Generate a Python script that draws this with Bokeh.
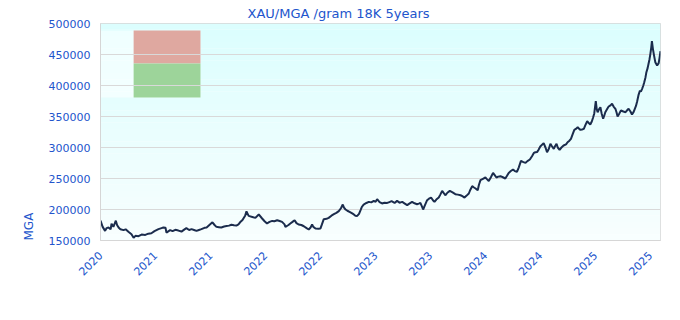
from math import pi
from bokeh.plotting import figure
from bokeh.models import Range1d, FixedTicker, BoxAnnotation, Title, BasicTickFormatter
from bokeh.embed import file_html
from bokeh.resources import INLINE

TITLE = "XAU/MGA /gram 18K 5years"
Y_LABEL = "MGA"

# days since 2020-11-13
day = [0, 7, 15, 20, 26, 33, 36, 42, 50, 54, 59, 65, 75, 82, 91, 101, 108, 114, 124, 134,
       146, 156, 166, 176, 189, 199, 205, 212, 215, 227, 235, 244, 254, 264, 274, 280, 289, 297, 305, 313,
       321, 329, 339, 346, 355, 365, 372, 378, 386, 394, 403, 411, 419, 427, 435, 443, 450, 455, 463, 472,
       476, 483, 495, 505, 516, 527, 535, 543, 551, 560, 567, 576, 584, 592, 600, 603, 613, 619, 626, 633,
       639, 646, 655, 663, 672, 679, 685, 690, 694, 701, 711, 717, 722, 728, 737, 744, 753, 761, 769, 777,
       784, 790, 794, 799, 805, 812, 818, 826, 831, 837, 843, 848, 852, 858, 867, 875, 883, 891, 897, 902,
       910, 918, 926, 935, 942, 949, 959, 967, 975, 984, 991, 1000, 1007, 1016, 1024, 1032, 1038, 1043, 1048, 1052,
       1058, 1065, 1071, 1078, 1084, 1089, 1095, 1103, 1108, 1114, 1120, 1125, 1131, 1139, 1148, 1157, 1165, 1174, 1180, 1187,
       1193, 1201, 1206, 1212, 1218, 1223, 1230, 1234, 1239, 1247, 1255, 1260, 1266, 1273, 1280, 1286, 1291, 1297, 1304, 1312,
       1320, 1325, 1331, 1338, 1345, 1351, 1358, 1364, 1371, 1379, 1386, 1392, 1400, 1407, 1413, 1418, 1424, 1428, 1434, 1445,
       1451, 1456, 1462, 1467, 1472, 1478, 1482, 1487, 1491, 1497, 1503, 1510, 1518, 1523, 1529, 1534, 1540, 1545, 1550, 1556,
       1561, 1565, 1570, 1576, 1581, 1587, 1593, 1597, 1602, 1606, 1610, 1615, 1618, 1621, 1626, 1630, 1634, 1639, 1643, 1646,
       1652, 1657, 1663, 1668, 1673, 1679, 1683, 1686, 1692, 1697, 1705, 1712, 1717, 1722, 1728, 1733, 1738, 1741, 1746, 1750,
       1754, 1759, 1762, 1766, 1770, 1773, 1777, 1780, 1784, 1787, 1790, 1793, 1796, 1798, 1801, 1804, 1807, 1809, 1815, 1820,
       1823, 1826]

price = [182000, 172000, 165500, 170000, 171000, 168000, 177000, 172000, 182000, 175000,
         171000, 168000, 166700, 168000, 164000, 160000, 154400, 157500, 157000, 159500,
         159000, 161000, 161700, 165000, 168300, 170000, 171000, 170500, 162700, 166700,
         165000, 167200, 166000, 164400, 168000, 170000, 167000, 168300, 167000, 165500,
         167000, 168300, 170500, 171000, 175000, 179300, 175000, 172000, 171500, 171000,
         172500, 173300, 174000, 175500, 174500, 174000, 176000, 179300, 183000, 190500,
         197000, 189700, 188000, 186500, 192000, 185500, 181000, 177400, 180000, 181600,
         181000, 182700, 181500, 180000, 176000, 172000, 175000, 177400, 180000, 182700,
         178000, 175800, 175000, 173000, 170000, 167700, 171000, 175800, 172000, 169300,
         169000, 169300, 176000, 184400, 185000, 186500, 190000, 192400, 194500, 197300,
         202000, 208000, 203000, 200000, 198000, 196200, 194500, 192000, 190000, 189700,
         193000, 199000, 204000, 208000, 210500, 212300, 211500, 213900, 212500, 216600,
         212000, 209700, 211000, 210600, 212000, 213400, 210600, 213900, 211000, 212300,
         210000, 207000, 209500, 212300, 210000, 208500, 209500, 210600, 205000, 200000,
         207000, 215000, 217500, 219300, 215000, 212300, 216000, 219300, 224000, 230000,
         226000, 223000, 227000, 230000, 227500, 224700, 224000, 223000, 221500, 219300,
         222000, 225800, 232000, 237600, 235500, 233900, 231100, 240000, 247300, 249500,
         251600, 249000, 246100, 252000, 259000, 255000, 251600, 253000, 253700, 252000,
         250000, 254000, 259000, 262000, 264500, 262000, 260600, 268000, 278400, 276500,
         275200, 278000, 280600, 286000, 291300, 292400, 292900, 296000, 301600, 307000,
         300000, 292400, 298000, 306000, 302000, 297900, 302000, 306000, 300000, 296300,
         300000, 303200, 305000, 308500, 311000, 314000, 322000, 328500, 330000, 332700,
         330000, 328500, 329000, 330100, 336000, 342400, 339000, 337100, 342000, 347900,
         355000, 374700, 362000, 356900, 362000, 365000, 355000, 346300, 352000, 356900,
         362000, 366100, 368000, 370500, 366000, 362400, 356000, 350000, 355000, 359700,
         358000, 356900, 360000, 362400, 358000, 353200, 357000, 360800, 367000, 374700,
         384000, 391900, 390000, 394700, 400000, 405300, 413000, 421500, 428000, 435000,
         442000, 451100, 462000, 471500, 460000, 451100, 443000, 437600, 432300, 436000,
         445000, 455300]

TICK_DAYS = [0, 179, 359, 538, 717, 897, 1076, 1255, 1434, 1614, 1793]
TICK_LABELS = ["2020", "2021", "2021", "2022", "2022", "2023", "2023", "2024", "2024", "2025", "2025"]
Y_TICKS = [150000, 200000, 250000, 300000, 350000, 400000, 450000, 500000]

BLUE = "#2255cc"
FONT = "DejaVu Sans"

p = figure(width=680, height=320, output_backend="svg", toolbar_location=None,
           x_range=Range1d(0, 1826), y_range=Range1d(150000, 500000),
           min_border_left=100, min_border_right=20, min_border_top=23, min_border_bottom=80)

p.title.text = TITLE
p.title.text_font = FONT
p.title.text_font_size = "13px"
p.title.text_font_style = "normal"
p.title.text_color = BLUE
p.title.align = "left"
p.title.offset = 147
p.title.standoff = 6

ytitle = Title(text=Y_LABEL, align="left", text_font=FONT, text_font_size="12px",
               text_font_style="normal", text_color=BLUE, standoff=20)
p.add_layout(ytitle, "left")

# background gradient (top light cyan -> bottom near white)
nb = 35
for i in range(nb):
    f = i / (nb - 1)
    r = int(248 - (248 - 220) * f)
    g = int(255 - 1 * f)
    b = int(255 - 1 * f)
    lo = 150000 + i * 10000
    p.add_layout(BoxAnnotation(bottom=lo, top=lo + 10000, fill_color=(r, g, b), fill_alpha=1,
                               line_color=None, level="image"))

# legend-like boxes
p.add_layout(BoxAnnotation(left=0, right=326, bottom=380600, top=488700, fill_color="white",
                           fill_alpha=0.55, line_color=None, level="image"))
p.add_layout(BoxAnnotation(left=108, right=326, bottom=435500, top=488700, fill_color="#dfa8a0",
                           fill_alpha=1, line_color=None, level="image"))
p.add_layout(BoxAnnotation(left=108, right=326, bottom=380600, top=435500, fill_color="#9dd49a",
                           fill_alpha=1, line_color=None, level="image"))

p.line(day, price, line_color="#1b2c4d", line_width=2)

p.background_fill_color = "white"
p.border_fill_color = "white"
p.outline_line_color = "#d6d6d6"

p.xgrid.grid_line_color = None
p.ygrid.grid_line_color = "#d9d9d9"
p.ygrid.ticker = FixedTicker(ticks=Y_TICKS)

p.xaxis.ticker = FixedTicker(ticks=TICK_DAYS)
p.xaxis.major_label_overrides = {d: lab for d, lab in zip(TICK_DAYS, TICK_LABELS)}
p.xaxis.major_label_orientation = pi / 4
p.yaxis.ticker = FixedTicker(ticks=Y_TICKS)
p.yaxis.formatter = BasicTickFormatter(use_scientific=False)

for ax in (p.xaxis, p.yaxis):
    ax.axis_line_color = "#d6d6d6"
    ax.major_tick_line_color = None
    ax.minor_tick_line_color = None
    ax.major_tick_out = 0
    ax.major_tick_in = 0
    ax.major_label_text_color = BLUE
    ax.major_label_text_font = FONT
    ax.major_label_text_font_size = "11px"
p.yaxis.major_label_standoff = 10
p.xaxis.major_label_standoff = 13

open("out.html", "w").write(file_html(p, INLINE))
